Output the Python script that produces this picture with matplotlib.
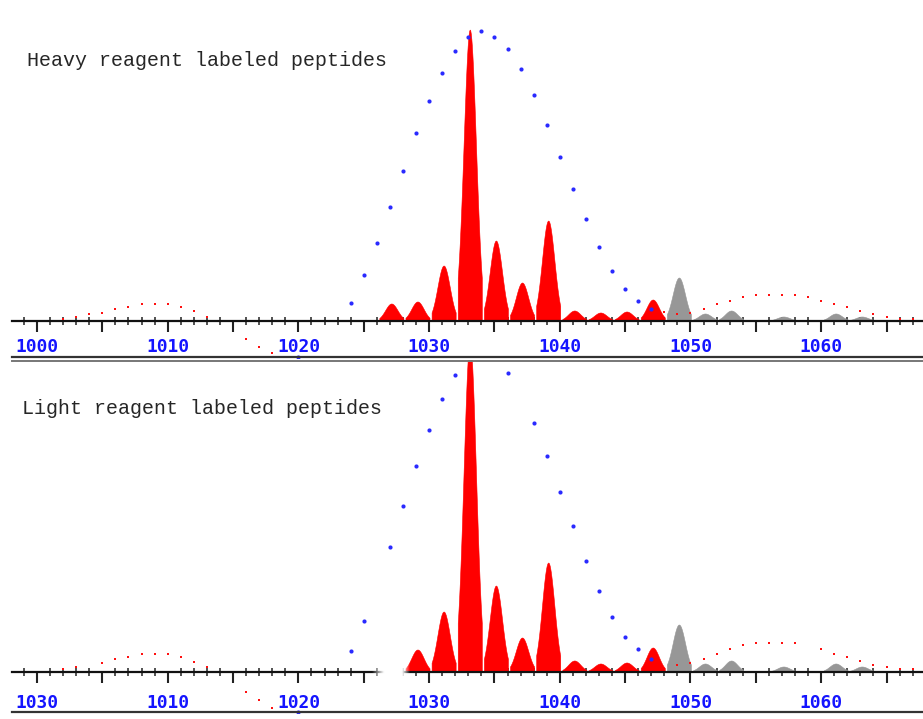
import numpy as np
import matplotlib.pyplot as plt
from matplotlib.ticker import FixedLocator, MultipleLocator

# picos del espectro (m/z, altura) - panel superior (reactivo pesado)
heavy_red_mz = [1027.15, 1029.15, 1031.15, 1033.15, 1035.15, 1037.15, 1039.15,
                1041.15, 1043.15, 1045.15, 1047.15]
heavy_red_int = [17, 19, 55, 291, 80, 38, 100, 10, 8, 9, 21]
heavy_gray_mz = [1049.15, 1051.15, 1053.15, 1057.15, 1061.15, 1063.15]
heavy_gray_int = [43, 7, 10, 4, 7, 4]

# envolvente azul (puntos)
heavy_blue_mz = [1020, 1024, 1025, 1026, 1027, 1028, 1029, 1030, 1031, 1032, 1033,
                 1034, 1035, 1036, 1037, 1038, 1039, 1040, 1041, 1042, 1043, 1044,
                 1045, 1046, 1047]
heavy_blue_int = [-36, 18, 46, 78, 114, 150, 188, 220, 248, 270, 284,
                  290, 284, 272, 252, 226, 196, 164, 132, 102, 74, 50,
                  32, 20, 12]

# curva roja punteada
heavy_dot_mz = [1002, 1003, 1004, 1005, 1006, 1007, 1008, 1009, 1010, 1011, 1012, 1013,
                1016, 1017, 1018, 1019,
                1048, 1049, 1050, 1051, 1052, 1053, 1054, 1055, 1056, 1057, 1058,
                1059, 1060, 1061, 1062, 1063, 1064, 1065, 1066, 1067]
heavy_dot_int = [2, 4, 7, 8, 12, 14, 17, 17, 17, 14, 10, 4,
                 -18, -26, -32, -36,
                 9, 7, 8, 12, 17, 20, 24, 26, 26, 26, 26,
                 24, 20, 17, 14, 10, 7, 4, 2, 2]

# panel inferior (reactivo liviano)
light_red_mz = [1029.15, 1031.15, 1033.15, 1035.15, 1037.15, 1039.15,
                1041.15, 1043.15, 1045.15, 1047.15]
light_red_int = [22, 60, 330, 86, 34, 109, 11, 8, 9, 24]
light_gray_mz = [1049.15, 1051.15, 1053.15, 1057.15, 1061.15, 1063.15]
light_gray_int = [47, 8, 11, 5, 8, 5]

light_blue_mz = [1020, 1024, 1025, 1027, 1028, 1029, 1030, 1031, 1032, 1033, 1034,
                 1035, 1036, 1038, 1039, 1040, 1041, 1042, 1043, 1044, 1045,
                 1046, 1047]
light_blue_int = [-40, 21, 51, 125, 166, 206, 242, 273, 297, 315, 320,
                  315, 299, 249, 216, 180, 146, 111, 81, 55, 35,
                  23, 13]

light_dot_mz = [1002, 1003, 1005, 1006, 1007, 1008, 1009, 1010, 1011, 1012, 1013,
                1016, 1017, 1018, 1019,
                1049, 1050, 1051, 1052, 1053, 1054, 1055, 1056, 1057, 1058,
                1060, 1061, 1062, 1063, 1064, 1065, 1066, 1067]
light_dot_int = [3, 5, 9, 13, 15, 18, 18, 18, 15, 10, 5,
                 -20, -28, -36, -40,
                 7, 9, 13, 18, 23, 27, 29, 29, 29, 29,
                 23, 18, 15, 11, 7, 5, 3, 3]

tick_values = list(range(1000, 1066, 5))
heavy_labels = ["1000", "", "1010", "", "1020", "", "1030", "", "1040", "", "1050", "", "1060", ""]
light_labels = ["1030", "", "1010", "", "1020", "", "1030", "", "1040", "", "1050", "", "1060", ""]

W, H = 923, 719
XMIN = 1000 - 25 / 13.07
XMAX = 1000 + 886 / 13.07


def pico(ax, mz, h, color):
    # perfil gaussiano truncado de cada pico
    dx = np.linspace(-0.92, 0.92, 47)
    y = h * np.exp(-0.5 * (dx / 0.47) ** 2)
    xs = np.concatenate([[mz + dx[0]], mz + dx, [mz + dx[-1]]])
    ys = np.concatenate([[0], y, [0]])
    ax.fill(xs, ys, facecolor=color, edgecolor=color, lw=0.4, zorder=2)


def panel(ax, red_mz, red_int, gray_mz, gray_int, blue_mz, blue_int,
          dot_mz, dot_int, ylim, labels, pad):
    for m, h in zip(red_mz, red_int):
        pico(ax, m, h, '#ff0000')
    for m, h in zip(gray_mz, gray_int):
        pico(ax, m, h, '#979797')

    ax.plot(dot_mz, dot_int, 's', color='#ff1010', ms=1.9, mew=0, zorder=4)
    ax.plot(blue_mz, blue_int, 'o', color='#2a2aff', ms=3.0, mew=0, zorder=4)

    ax.set_xlim(XMIN, XMAX)
    ax.set_ylim(*ylim)
    for s in ['left', 'right', 'top']:
        ax.spines[s].set_visible(False)
    ax.spines['bottom'].set_position(('data', 0))
    ax.spines['bottom'].set_linewidth(1.6)
    ax.spines['bottom'].set_color('#111111')
    ax.set_yticks([])

    ax.xaxis.set_major_locator(FixedLocator(tick_values))
    ax.set_xticklabels(labels, family='DejaVu Sans Mono', fontsize=12.9,
                       fontweight='bold', color='#1414ff')
    ax.xaxis.set_minor_locator(MultipleLocator(1))
    ax.tick_params(axis='x', which='major', direction='out', length=8, width=1.5,
                   color='#222222', pad=pad)
    ax.tick_params(axis='x', which='minor', direction='inout', length=6, width=1.2,
                   color='#333333')
    ax.set_facecolor('none')


fig = plt.figure(figsize=(W / 100, H / 100), dpi=100)

ax1 = fig.add_axes([12 / W, 1 - 358 / H, 1 - 12 / W, 358 / H])
panel(ax1, heavy_red_mz, heavy_red_int, heavy_gray_mz, heavy_gray_int,
      heavy_blue_mz, heavy_blue_int, heavy_dot_mz, heavy_dot_int,
      (-37, 321), heavy_labels, 4.3)
ax1.axhline(-36.3, color='#333333', lw=1.6, clip_on=False, zorder=5)

ax2 = fig.add_axes([12 / W, 6 / H, 1 - 12 / W, 353 / H])
panel(ax2, light_red_mz, light_red_int, light_gray_mz, light_gray_int,
      light_blue_mz, light_blue_int, light_dot_mz, light_dot_int,
      (-41, 312), light_labels, 7.5)
ax2.axhline(311.5, color='#777777', lw=1.4, clip_on=False, zorder=5)
ax2.axhline(-40.3, color='#333333', lw=1.6, clip_on=False, zorder=5)

# mancha blanca sobre el eje del panel inferior
gx = np.linspace(1025.6, 1028.5, 200)
grad = np.ones((1, 200, 4))
grad[..., 3] = np.interp(gx, [1025.6, 1026.5, 1027.9, 1028.5], [0, 1, 1, 0])
ax2.imshow(grad, extent=[1025.6, 1028.5, -8, 25], aspect='auto', zorder=6,
           interpolation='bilinear')
ax2.set_xlim(XMIN, XMAX)
ax2.set_ylim(-41, 312)

fig.text(27 / W, 1 - 60 / H, "Heavy reagent labeled peptides", family='Liberation Mono',
         fontsize=14.4, color='#262626', va='center', ha='left')
fig.text(22 / W, 1 - 409 / H, "Light reagent labeled peptides", family='Liberation Mono',
         fontsize=14.4, color='#262626', va='center', ha='left')

fig.savefig('out.png', dpi=100)
